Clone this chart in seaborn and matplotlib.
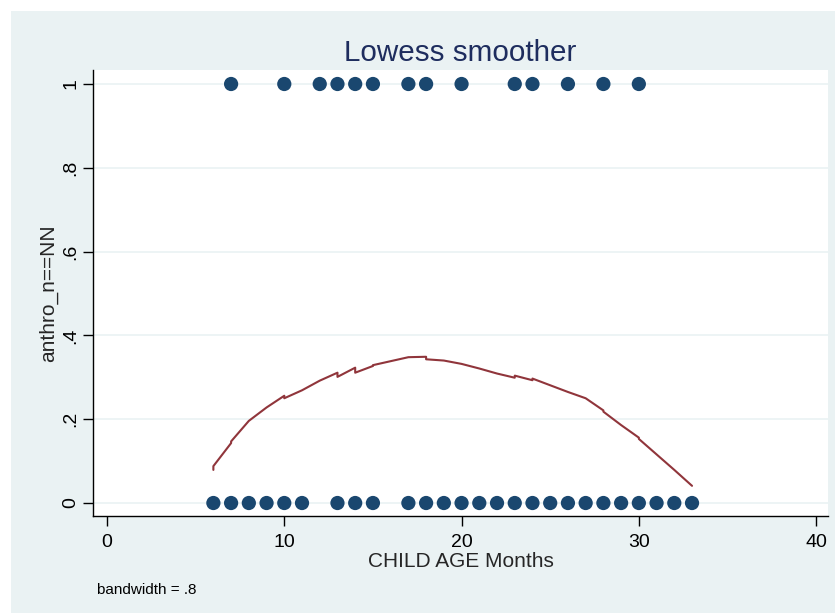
import pandas as pd
import matplotlib.pyplot as plt
import seaborn as sns
from matplotlib.patches import Rectangle

# observed points (child age in months, outcome 0/1)
age_yes = [7, 10, 12, 13, 14, 15, 17, 18, 20, 23, 24, 26, 28, 30]
age_no = [6, 7, 8, 9, 10, 11, 13, 14, 15, 17, 18, 19, 20, 21, 22, 23, 24, 25,
          26, 27, 28, 29, 30, 31, 32, 33]

# lowess fit (ties give the small jumps)
lowess_age = [6, 6, 7, 7, 8, 9, 10, 10, 11, 12, 13, 13, 14, 14, 15, 15, 17, 18, 18,
              19, 20, 21, 22, 23, 23, 24, 24, 25, 26, 27, 28, 28, 29, 30, 30, 31, 32, 33]
lowess_fit = [0.079, 0.088, 0.143, 0.147, 0.196, 0.228, 0.256, 0.250, 0.269, 0.292,
              0.311, 0.301, 0.323, 0.311, 0.327, 0.329, 0.348, 0.349, 0.343, 0.340,
              0.332, 0.321, 0.309, 0.299, 0.304, 0.293, 0.297, 0.281, 0.265, 0.250,
              0.221, 0.218, 0.186, 0.156, 0.153, 0.116, 0.079, 0.041]

x_ticks = [0, 10, 20, 30, 40]
y_ticks = [0, 0.2, 0.4, 0.6, 0.8, 1]
y_tick_labels = ['0', '.2', '.4', '.6', '.8', '1']

pts = pd.DataFrame({
    'age': age_yes + age_no,
    'anthro': [1] * len(age_yes) + [0] * len(age_no),
})
fit = pd.DataFrame({'age': lowess_age, 'fit': lowess_fit})

sns.set_style('white')
plt.rcParams['font.family'] = ['Liberation Sans', 'DejaVu Sans']

bg = '#eaf2f3'
fig = plt.figure(figsize=(8.35, 6.13), dpi=100, facecolor='white')
fig.patches.append(Rectangle((10.6 / 835, 0), 1, 1 - 11 / 613,
                             transform=fig.transFigure, facecolor=bg,
                             edgecolor='none', zorder=-10))
ax = fig.add_axes([93 / 835, 1 - 516 / 613, 735 / 835, 446 / 613])
ax.set_facecolor('white')

for t in y_ticks:
    ax.axhline(t, color=bg, lw=1.2, zorder=0)

sns.scatterplot(data=pts, x='age', y='anthro', ax=ax, color='#1a476f', s=105,
                edgecolor='none', zorder=3)
sns.lineplot(data=fit, x='age', y='fit', ax=ax, sort=False, estimator=None,
             color='#90353b', lw=1.5, zorder=4)

ax.set_xlim(-0.79, 40.67)
ax.set_ylim(-0.031, 1.0334)
ax.set_xticks(x_ticks)
ax.set_yticks(y_ticks)
ax.set_yticklabels(y_tick_labels, rotation=90, va='center')
ax.tick_params(axis='both', direction='out', length=7, width=1, color='black',
               labelsize=14, labelcolor='black')
ax.tick_params(axis='x', bottom=True, pad=6)
ax.tick_params(axis='y', left=True, pad=3)

for s in ['top', 'right']:
    ax.spines[s].set_visible(False)
for s in ['left', 'bottom']:
    ax.spines[s].set_color('black')
    ax.spines[s].set_linewidth(1)

ax.set_xlabel('CHILD AGE Months', fontsize=15, labelpad=1)
ax.set_ylabel('anthro_n==NN', fontsize=15, labelpad=3)

fig.text(460.5 / 835, 1 - 61 / 613, 'Lowess smoother', ha='center', va='baseline',
         fontsize=21.3, color='#1e2d5e')
fig.text(97 / 835, 1 - 594 / 613, 'bandwidth = .8', ha='left', va='baseline',
         fontsize=11, color='black')

fig.savefig('out.png', dpi=100, facecolor=fig.get_facecolor())
